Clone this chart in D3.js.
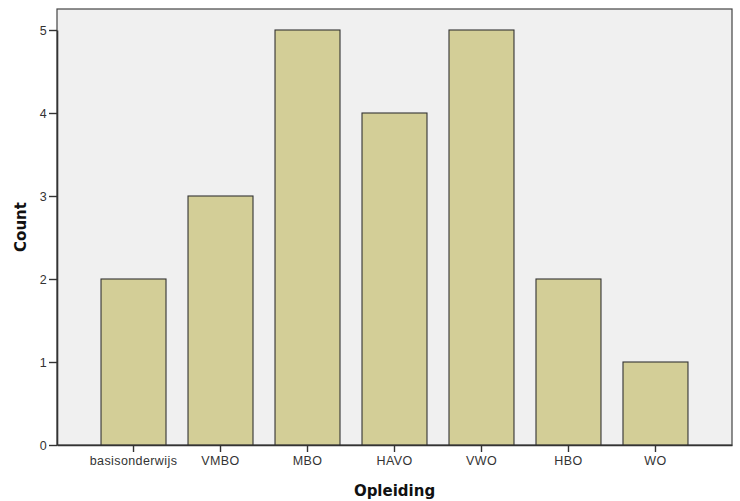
<!DOCTYPE html>
<html>
<head>
<meta charset="utf-8">
<script src="https://cdn.jsdelivr.net/npm/d3@7"></script>
<style>
  body { margin: 0; background: #fff; }
  svg { display: block; font-family: "Liberation Sans", Arial, sans-serif; }
</style>
</head>
<body>
<svg id="chart" width="740" height="501"></svg>
<script>
const categories = ["basisonderwijs", "VMBO", "MBO", "HAVO", "VWO", "HBO", "WO"];
const counts = [2, 3, 5, 4, 5, 2, 1];
const yTicks = [0, 1, 2, 3, 4, 5];

const plotLeft = 57, plotRight = 732, plotTop = 9, plotBottom = 445;
const $svg = d3.select("#chart");

const x = d3.scaleBand().domain(categories).range([plotLeft, plotRight])
  .paddingInner(0.253).paddingOuter(0.506);
const y = d3.scaleLinear().domain([0, 5]).range([plotBottom, 30]);

// plot background
$svg.append("rect")
  .attr("x", plotLeft).attr("y", plotTop)
  .attr("width", plotRight - plotLeft).attr("height", plotBottom - plotTop)
  .attr("fill", "#f0f0f0")
  .attr("stroke", "#444").attr("stroke-width", 1.2);

// bars
$svg.selectAll(".bar").data(counts).enter()
  .append("rect")
  .attr("class", "bar")
  .attr("x", (d, i) => x(categories[i]))
  .attr("width", x.bandwidth())
  .attr("y", d => y(d))
  .attr("height", d => plotBottom - y(d))
  .attr("fill", "#d3ce97")
  .attr("stroke", "#333").attr("stroke-width", 1.1);

// axes
const yAxis = d3.axisLeft(y).tickValues(yTicks).tickSizeInner(8).tickSizeOuter(0)
  .tickPadding(2).tickFormat(d3.format("d"));
const gy = $svg.append("g").attr("transform", `translate(${plotLeft},0)`).call(yAxis);
const xAxis = d3.axisBottom(x).tickSizeInner(7).tickSizeOuter(0).tickPadding(4);
const gx = $svg.append("g").attr("transform", `translate(0,${plotBottom})`).call(xAxis);

[gy, gx].forEach(g => {
  g.select(".domain").attr("stroke", "#333").attr("stroke-width", 1.6);
  g.selectAll(".tick line").attr("stroke", "#333").attr("stroke-width", 1.4);
  g.selectAll(".tick text").attr("fill", "#333").style("font-size", "12.5px")
    .style("letter-spacing", "0.4px")
    .style("font-family", "'Liberation Sans', Arial, sans-serif");
});

// axis titles
$svg.append("text")
  .attr("x", (plotLeft + plotRight) / 2).attr("y", 496)
  .attr("text-anchor", "middle")
  .style("font-size", "15px").style("font-weight", "bold")
  .style("font-family", "'DejaVu Sans', Verdana, sans-serif")
  .attr("fill", "#111")
  .text("Opleiding");

$svg.append("text")
  .attr("transform", `translate(26,${(plotTop + plotBottom) / 2}) rotate(-90)`)
  .attr("text-anchor", "middle")
  .style("font-size", "15px").style("font-weight", "bold")
  .style("font-family", "'DejaVu Sans', Verdana, sans-serif")
  .attr("fill", "#111")
  .text("Count");
</script>
</body>
</html>
